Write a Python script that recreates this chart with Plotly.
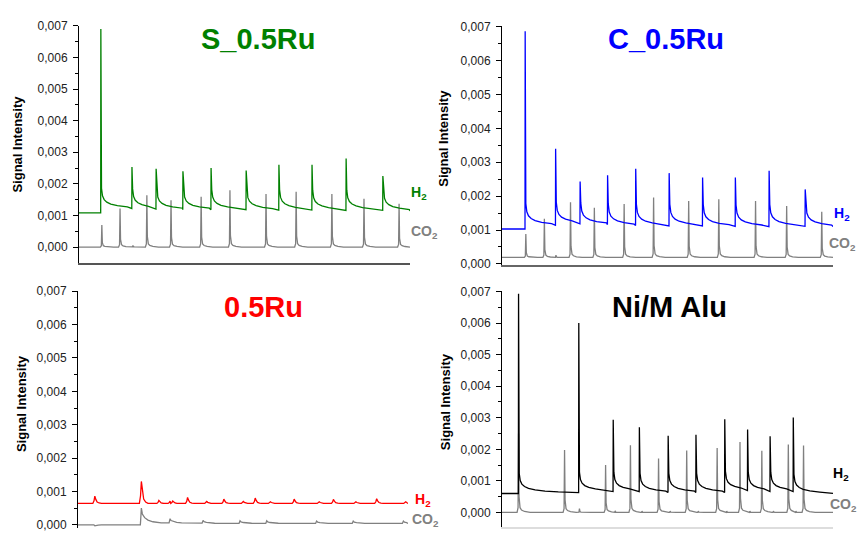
import plotly.graph_objects as go

W, H = 857, 535

# ---------------- data (x in relative time units 0..100 per panel) ----------------
# S_0.5Ru
S_H2_START = 0.00108
S_H2_T = [6.6, 16.0, 23.3, 31.4, 39.9, 50.5, 60.4, 70.4, 80.7, 91.8]
S_H2_H = [0.0069, 0.00253, 0.00248, 0.0024, 0.0025, 0.00242, 0.0026, 0.0026, 0.0028, 0.00225]
S_H2_L = [0.00122, 0.0012, 0.00118, 0.00118, 0.00118, 0.00117, 0.00117, 0.00116, 0.00116, 0.00114]
S_CO2_BASE = 0.0
S_CO2_T = [6.9, 12.4, 16.3, 20.5, 27.8, 36.9, 45.6, 56.5, 65.6, 76.4, 86.1, 96.7]
S_CO2_H = [0.0007, 0.00122, 0.00005, 0.00164, 0.00148, 0.00159, 0.0018, 0.00168, 0.00175, 0.00168, 0.00153, 0.00137]

# C_0.5Ru
C_H2_START = 0.00103
C_H2_T = [7.0, 16.2, 23.6, 31.9, 40.4, 50.5, 60.6, 70.5, 80.7, 91.6]
C_H2_H = [0.00687, 0.0034, 0.00243, 0.00262, 0.00281, 0.00268, 0.00255, 0.00255, 0.00275, 0.0022]
C_H2_L = [0.00114, 0.00118, 0.00116, 0.00113, 0.00112, 0.00112, 0.00111, 0.0011, 0.00111, 0.0011]
C_CO2_BASE = 0.00019
C_CO2_T = [7.2, 12.8, 16.3, 20.7, 27.9, 36.9, 45.8, 56.4, 65.5, 76.6, 86.0, 96.6]
C_CO2_H = [0.00088, 0.00133, 0.00026, 0.00182, 0.00166, 0.00177, 0.00196, 0.00186, 0.00191, 0.00186, 0.00171, 0.00154]

# 0.5Ru
R_H2_BASE = 0.00064
R_H2_T = [5.1, 19.2, 24.5, 27.9, 28.7, 33.2, 39.0, 44.2, 50.1, 53.7, 58.3, 65.5, 73.1, 77.4, 84.2, 90.5, 99.3]
R_H2_H = [0.00086, 0.0013, 0.00073, 0.00071, 0.00071, 0.00082, 0.0007, 0.00077, 0.0007, 0.0008,
          0.00069, 0.00077, 0.00069, 0.00076, 0.00069, 0.00078, 0.00069]
R_CO2_START = 0.0
R_CO2_T = [5.1, 19.2, 27.9, 37.9, 49.1, 57.2, 72.3, 83.4, 98.6]
R_CO2_H = [-0.00003, 0.0005, 0.00018, 0.00013, 0.00012, 0.00012, 0.00011, 0.00011, 0.00011]
R_CO2_L = [0.0, 0.00006, 0.00005, 0.00004, 0.00004, 0.00004, 0.00004, 0.00004, 0.00004]

# Ni/M Alu
N_H2_START = 0.0006
N_H2_T = [5.0, 23.2, 33.6, 41.5, 50.2, 58.6, 67.3, 74.2, 81.0, 88.0]
N_H2_H = [0.00693, 0.006, 0.00294, 0.0027, 0.00243, 0.00246, 0.00295, 0.00263, 0.00241, 0.00301]
N_H2_L = [0.00063, 0.00066, 0.00066, 0.00063, 0.00063, 0.00063, 0.00069, 0.00066, 0.00066, 0.0006]
N_CO2_BASE = 0.0
N_CO2_T = [5.0, 18.9, 23.4, 31.3, 34.2, 38.8, 42.3, 47.3, 50.8, 55.8, 59.3, 65.0, 67.9, 71.9, 74.9,
           78.5, 82.0, 86.5, 88.8, 91.1]
N_CO2_H = [0.0025, 0.00198, 0.00012, 0.0015, 0.00005, 0.00213, 0.00004, 0.00171, 0.00004, 0.00196,
           0.00004, 0.00204, 0.00004, 0.00223, 0.00004, 0.00195, 0.00004, 0.00215, 0.00004, 0.00212]

Y_TICKS = [0.0, 0.001, 0.002, 0.003, 0.004, 0.005, 0.006, 0.007]

# peak shape templates
H2_RISE_DX, H2_RISE_F = [-0.05, 0.0], [0.0, 1.0]
H2_TAIL_DX = [0.2, 0.5, 1.0, 1.8, 3.0, 5.0, 8.0, 12.0]
H2_TAIL_G = [1.6, 1.0, 0.7, 0.5, 0.35, 0.22, 0.12, 0.05]
CO2_RISE_DX, CO2_RISE_F = [-0.45, -0.15, 0.0], [0.0, 0.06, 1.0]
CO2_TAIL_DX = [0.15, 0.45, 0.9, 1.8, 3.5]
CO2_TAIL_F = [0.2, 0.06, 0.03, 0.012, 0.0]
BUMP_RISE_DX, BUMP_RISE_F = [-0.6, -0.25, 0.0], [0.0, 0.35, 1.0]
BUMP_TAIL_DX = [0.3, 0.7, 1.3, 2.0]
BUMP_TAIL_F = [0.55, 0.2, 0.06, 0.0]
SLOW_RISE_DX, SLOW_RISE_F = [-0.3, 0.0], [0.0, 1.0]
SLOW_TAIL_DX = [0.3, 1.0, 2.0, 3.5, 6.0]
SLOW_TAIL_F = [0.6, 0.35, 0.18, 0.07, 0.0]


def build(t_end, start, times, heights, levels, rise_dx, rise_f, tail_dx, tail_g, amp=None):
    if not isinstance(levels, (list, tuple)):
        levels = [levels] * len(times)
    xs, ys = [0.0], [start]
    prev = start
    n = len(times)
    for i, (t, h, L) in enumerate(zip(times, heights, levels)):
        for dx, f in zip(rise_dx, rise_f):
            x = t + dx
            if x > xs[-1]:
                xs.append(x)
                ys.append(prev + (h - prev) * f)
        limit = times[i + 1] + rise_dx[0] if i + 1 < n else t_end
        for dx, g in zip(tail_dx, tail_g):
            x = t + dx
            if x >= limit:
                break
            y = L + (amp * g if amp is not None else (h - L) * g)
            xs.append(x)
            ys.append(y)
        prev = L
    if xs[-1] < t_end:
        xs.append(t_end)
        ys.append(prev)
    return xs, ys


FONT = "Liberation Sans, Arial, Helvetica, sans-serif"
GREEN, BLUE, RED, BLACK, GRAY = "#008000", "#0000ff", "#ff0000", "#000000", "#808080"

fig = go.Figure()

panels = [
    # (axis suffix, co2 builder args, h2 builder args, h2 colour)
    ("", build(100, S_CO2_BASE, S_CO2_T, S_CO2_H, S_CO2_BASE, CO2_RISE_DX, CO2_RISE_F, CO2_TAIL_DX, CO2_TAIL_F),
     build(100, S_H2_START, S_H2_T, S_H2_H, S_H2_L, H2_RISE_DX, H2_RISE_F, H2_TAIL_DX, H2_TAIL_G, amp=0.0004), GREEN),
    ("2", build(100, C_CO2_BASE, C_CO2_T, C_CO2_H, C_CO2_BASE, CO2_RISE_DX, CO2_RISE_F, CO2_TAIL_DX, CO2_TAIL_F),
     build(100, C_H2_START, C_H2_T, C_H2_H, C_H2_L, H2_RISE_DX, H2_RISE_F, H2_TAIL_DX, H2_TAIL_G, amp=0.0004), BLUE),
    ("3", build(100, R_CO2_START, R_CO2_T, R_CO2_H, R_CO2_L, SLOW_RISE_DX, SLOW_RISE_F, SLOW_TAIL_DX, SLOW_TAIL_F),
     build(100, R_H2_BASE, R_H2_T, R_H2_H, R_H2_BASE, BUMP_RISE_DX, BUMP_RISE_F, BUMP_TAIL_DX, BUMP_TAIL_F), RED),
    ("4", build(100, N_CO2_BASE, N_CO2_T, N_CO2_H, N_CO2_BASE, CO2_RISE_DX, CO2_RISE_F, CO2_TAIL_DX, CO2_TAIL_F),
     build(100, N_H2_START, N_H2_T, N_H2_H, N_H2_L, H2_RISE_DX, H2_RISE_F, H2_TAIL_DX, H2_TAIL_G, amp=0.00038), BLACK),
]

for suf, (cx, cy), (hx, hy), col in panels:
    fig.add_trace(go.Scatter(x=cx, y=cy, mode="lines", line=dict(color=GRAY, width=1.3),
                             xaxis="x" + suf, yaxis="y" + suf, hoverinfo="skip"))
    fig.add_trace(go.Scatter(x=hx, y=hy, mode="lines", line=dict(color=col, width=1.3),
                             xaxis="x" + suf, yaxis="y" + suf, hoverinfo="skip"))


def px(x):
    return x / W


def py(y):
    return 1 - y / H


def yaxis(dom, rng, anchor):
    return dict(domain=dom, range=rng, anchor=anchor, showline=True, linecolor="black", linewidth=1,
                ticks="outside", ticklen=5, tickwidth=1, tickcolor="black",
                tickmode="array", tickvals=Y_TICKS, tickformat=".3f",
                ticklabelstandoff=3,
                tickfont=dict(family=FONT, size=12, color="#222222"),
                minor=dict(ticks="outside", ticklen=3, tickwidth=1, tickcolor="black",
                           dtick=0.0005, tick0=0, showgrid=False),
                showgrid=False, zeroline=False, fixedrange=True)


def xaxis(dom, anchor, show, col, lw):
    return dict(domain=dom, range=[0, 100], anchor=anchor, showline=show, linecolor=col, linewidth=lw,
                ticks="", showticklabels=False, showgrid=False, zeroline=False, fixedrange=True)


layout = dict(
    width=W, height=H, margin=dict(l=0, r=0, t=0, b=0),
    paper_bgcolor="white", plot_bgcolor="white", showlegend=False,
    separators=",.", hovermode=False,
    font=dict(family=FONT),
    xaxis=xaxis([px(79), px(410)], "y", True, "#555555", 2),
    yaxis=yaxis([py(263), py(20)], [-0.000493, 0.00701], "x"),
    xaxis2=xaxis([px(502), px(833)], "y2", True, "#666666", 2),
    yaxis2=yaxis([py(265), py(21)], [-0.00002, 0.00701], "x2"),
    xaxis3=xaxis([px(78), px(408)], "y3", False, "#ffffff", 1),
    yaxis3=yaxis([0, py(292)], [-0.0000964, 0.00701], "x3"),
    xaxis4=xaxis([px(502), px(833)], "y4", True, "#dddddd", 1.5),
    yaxis4=yaxis([py(534), py(292.3)], [-0.000463, 0.00701], "x4"),
)
fig.update_layout(**layout)

annos = []


def ann(text, x, y, size, color, angle=0):
    annos.append(dict(text=text, x=px(x), y=py(y), xref="paper", yref="paper", showarrow=False,
                      xanchor="center", yanchor="middle", textangle=angle,
                      font=dict(family=FONT, size=size, color=color)))


# panel titles
ann("<b>S_0.5Ru</b>", 258, 34, 29, GREEN)
ann("<b>C_0.5Ru</b>", 666, 34, 29, BLUE)
ann("<b>0.5Ru</b>", 263, 309, 29, RED)
ann("<b>Ni/M Alu</b>", 669, 309, 29, BLACK)

# y axis titles
ann("<b>Signal Intensity</b>", 18, 142, 13, BLACK, -90)
ann("<b>Signal Intensity</b>", 444, 136, 13, BLACK, -90)
ann("<b>Signal Intensity</b>", 21, 408, 13, BLACK, -90)
ann("<b>Signal Intensity</b>", 445, 406, 13, BLACK, -90)

# series labels
ann("<b>H<sub>2</sub></b>", 419, 192, 14, GREEN)
ann("<b>CO<sub>2</sub></b>", 424, 232, 14, GRAY)
ann("<b>H<sub>2</sub></b>", 842, 213, 14, BLUE)
ann("<b>CO<sub>2</sub></b>", 842, 244, 14, GRAY)
ann("<b>H<sub>2</sub></b>", 423, 506, 14, RED)
ann("<b>CO<sub>2</sub></b>", 425, 527, 14, GRAY)
ann("<b>H<sub>2</sub></b>", 841, 480, 14, BLACK)
ann("<b>CO<sub>2</sub></b>", 843, 511, 14, GRAY)

fig.update_layout(annotations=annos)

fig.write_html("out.html")
